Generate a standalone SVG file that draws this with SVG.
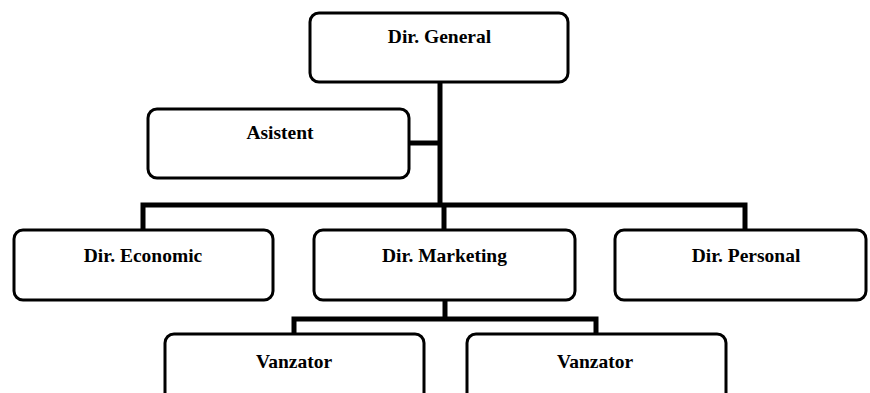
<svg xmlns="http://www.w3.org/2000/svg" width="870" height="393" viewBox="0 0 870 393">
<style>
.box{fill:#fff;stroke:#000;stroke-width:3}
.lbl{font-family:"Liberation Serif","Times New Roman",serif;font-weight:bold;font-size:19.5px;fill:#000;text-anchor:middle}
.con{fill:none;stroke:#000;stroke-width:5;stroke-linejoin:miter}
</style>
<rect width="870" height="393" fill="#fff"/>
<g id="connectors">
<path class="con" d="M440,82 V205"/>
<path class="con" d="M409,143 H440"/>
<path class="con" d="M143,231 V205 H745 V231"/>
<path class="con" d="M444,205 V231"/>
<path class="con" d="M445,300 V319"/>
<path class="con" d="M294,334 V319 H596 V334"/>
</g>
<g id="dir-general"><rect class="box" x="310" y="13" width="258" height="69" rx="9"/><text class="lbl" x="439.5" y="43">Dir. General</text></g>
<g id="asistent"><rect class="box" x="148" y="109" width="261" height="69" rx="9"/><text class="lbl" x="280" y="139">Asistent</text></g>
<g id="dir-economic"><rect class="box" x="14" y="230" width="259" height="70" rx="9"/><text class="lbl" x="143" y="262">Dir. Economic</text></g>
<g id="dir-marketing"><rect class="box" x="314" y="230" width="261" height="70" rx="9"/><text class="lbl" x="444.5" y="262">Dir. Marketing</text></g>
<g id="dir-personal"><rect class="box" x="615" y="230" width="251" height="70" rx="9"/><text class="lbl" x="746" y="262">Dir. Personal</text></g>
<g id="vanzator-1"><rect class="box" x="165" y="334" width="259" height="70" rx="9"/><text class="lbl" x="294" y="368">Vanzator</text></g>
<g id="vanzator-2"><rect class="box" x="467" y="334" width="259" height="70" rx="9"/><text class="lbl" x="595" y="368">Vanzator</text></g>
</svg>
